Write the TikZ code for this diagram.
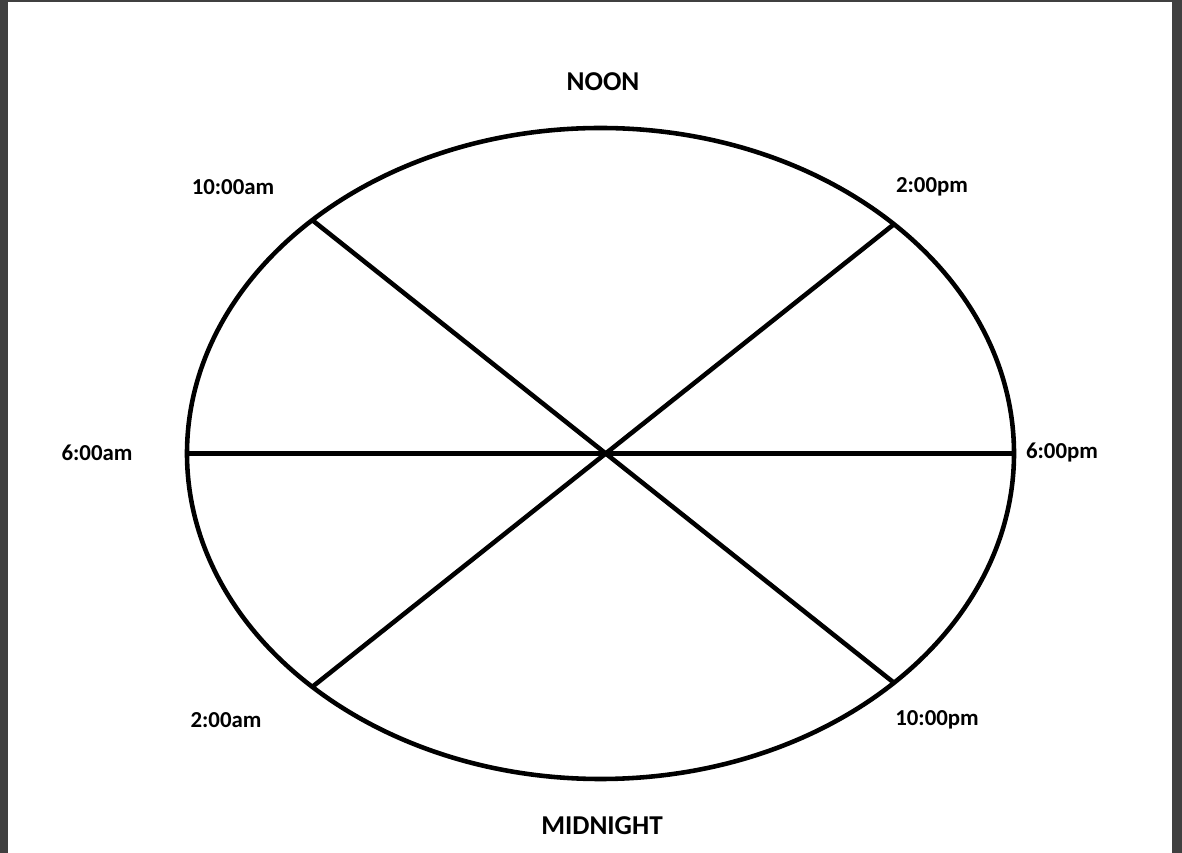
\documentclass[tikz,border=0pt]{standalone}
\usepackage{fontspec}
\setmainfont{Carlito}
\usepackage{tikz}
\usetikzlibrary{shapes.geometric, positioning}
\definecolor{frame}{HTML}{404040}

\begin{document}
\begin{tikzpicture}[thick, every node/.style={inner sep=2pt},
    hour/.style={font=\fontsize{13}{15}\selectfont\bfseries},
    pole/.style={font=\fontsize{15.5}{18}\selectfont\bfseries},
    spoke/.style={line width=2.6pt}]
    % Page and frame
    \useasboundingbox (0, 0) rectangle (23.64, 17.06);
    \fill[white] (0, 0) rectangle (23.64, 17.06);
    \fill[frame] (0, 0) rectangle (0.16, 17.06);
    \fill[frame] (23.44, 0) rectangle (23.64, 17.06);
    \fill[frame] (0, 17.02) rectangle (23.64, 17.06);

    % Clock face
    \node[draw, ellipse, line width=2.6pt, inner sep=0pt, outer sep=0pt, minimum width=16.54cm, minimum height=13.02cm] (clock) at (12.01, 7.99) {};

    % Spokes
    \draw[spoke] (clock.west) -- (clock.east);
    \draw[spoke] (clock.141.8) -- (clock.-38.2);
    \draw[spoke] (clock.38.2) -- (clock.-141.8);

    % Labels
    \node[pole] (noon) at (12.06, 15.42) {NOON};
    \node[pole] (midnight) at (12.04, 0.54) {MIDNIGHT};
    \node[hour] (ten am) at (4.66, 13.32) {10:00am};
    \node[hour] (two pm) at (18.64, 13.32) {2:00pm};
    \node[hour] (six am) at (1.94, 8.00) {6:00am};
    \node[hour] (six pm) at (21.24, 8.00) {6:00pm};
    \node[hour] (two am) at (4.52, 2.66) {2:00am};
    \node[hour] (ten pm) at (18.74, 2.66) {10:00pm};
\end{tikzpicture}
\end{document}
